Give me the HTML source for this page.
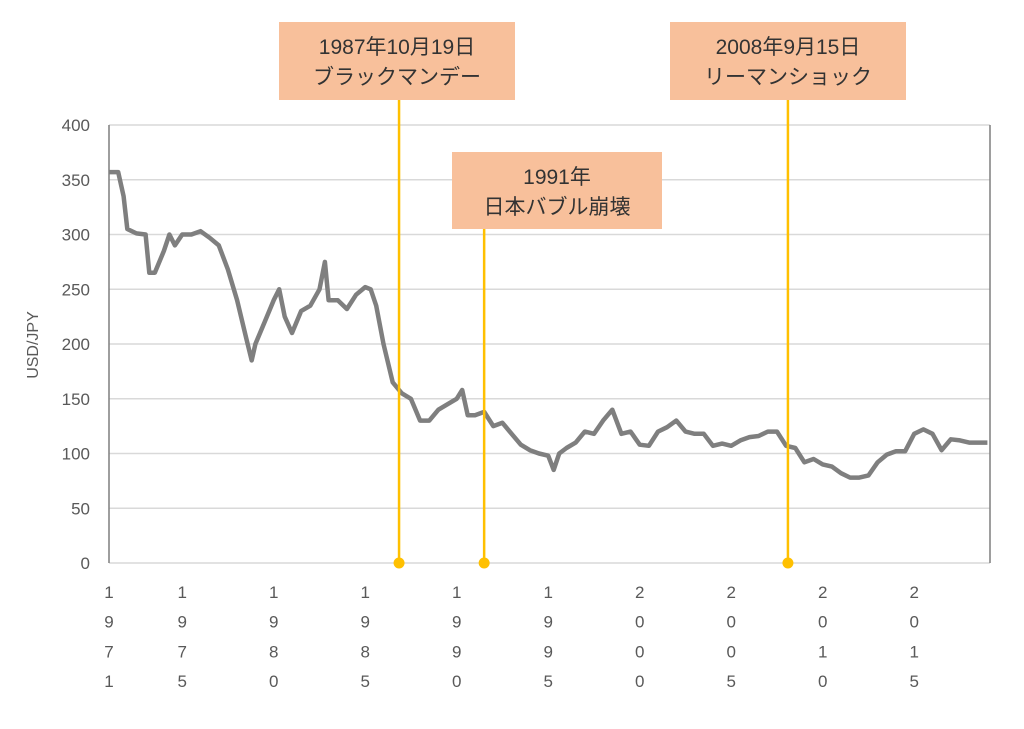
<!DOCTYPE html>
<html><head><meta charset="utf-8">
<style>
body{margin:0;background:#fff;}
svg text{font-family:"Liberation Sans","Noto Sans CJK JP",sans-serif;fill:#595959;}
</style></head>
<body>
<svg id="chart" width="1024" height="724" xmlns="http://www.w3.org/2000/svg">
<g id="grid"></g>
<g id="yticks"></g>
<g id="xticks"></g>
<text x="38" y="345" font-size="16" text-anchor="middle" transform="rotate(-90 38 345)">USD/JPY</text>
<g id="series"></g>
<g id="events"></g>
</svg>
<script>
const years=[1971,1971.5,1971.8,1972,1972.5,1973,1973.2,1973.5,1974,1974.3,1974.6,1975,1975.5,1976,1976.5,1977,1977.5,1978,1978.5,1978.8,1979,1979.5,1980,1980.3,1980.6,1981,1981.5,1982,1982.5,1982.8,1983,1983.5,1984,1984.5,1985,1985.3,1985.6,1986,1986.5,1987,1987.5,1988,1988.5,1989,1989.5,1990,1990.3,1990.6,1991,1991.5,1992,1992.5,1993,1993.5,1994,1994.5,1995,1995.3,1995.6,1996,1996.5,1997,1997.5,1998,1998.5,1999,1999.5,2000,2000.5,2001,2001.5,2002,2002.5,2003,2003.5,2004,2004.5,2005,2005.5,2006,2006.5,2007,2007.5,2008,2008.5,2009,2009.5,2010,2010.5,2011,2011.5,2012,2012.5,2013,2013.5,2014,2014.5,2015,2015.5,2016,2016.5,2017,2017.5,2018,2018.5,2019];
const rates=[357,357,335,305,301,300,265,265,285,300,290,300,300,303,297,290,268,240,205,185,200,220,240,250,225,210,230,235,250,275,240,240,232,245,252,250,235,200,165,155,150,130,130,140,145,150,158,135,135,138,125,128,118,108,103,100,98,85,100,105,110,120,118,130,140,118,120,108,107,120,124,130,120,118,118,107,109,107,112,115,116,120,120,107,105,92,95,90,88,82,78,78,80,92,99,102,102,118,122,118,103,113,112,110,110,110];
const yTicks=[0,50,100,150,200,250,300,350,400];
const xTickYears=[1971,1975,1980,1985,1990,1995,2000,2005,2010,2015];
const eventYears=[1986.85,1991.5,2008.1];
const eventLine1=["1987年10月19日","1991年","2008年9月15日"];
const eventLine2=["ブラックマンデー","日本バブル崩壊","リーマンショック"];

const NS="http://www.w3.org/2000/svg";
const X0=109,X1=990,Y0=563,Y1=125;
const xs=y=>X0+(y-1971)*18.3;
const ys=v=>Y0-(v/400)*(Y0-Y1);
function mk(tag,attrs,parent){const e=document.createElementNS(NS,tag);for(const k in attrs)e.setAttribute(k,attrs[k]);parent.appendChild(e);return e;}

const grid=document.getElementById('grid');
yTicks.forEach(t=>{
  const l=mk('line',{x1:X0,x2:X1,y1:ys(t),y2:ys(t),stroke:t===0?'#d9d9d9':'#d9d9d9','stroke-width':1.5},grid);
  
  
  const tx=mk('text',{x:90,y:ys(t)+6,'font-size':17,'text-anchor':'end'},document.getElementById('yticks'));
  tx.textContent=t;
  
  
});
const la=mk('line',{x1:X0,x2:X0,y1:Y1,y2:Y0,stroke:'#7f7f7f','stroke-width':1.5},grid);


const ra=mk('line',{x1:X1,x2:X1,y1:Y1,y2:Y0,stroke:'#7f7f7f','stroke-width':1.5},grid);



xTickYears.forEach(yr=>{
  const g=mk('g',{},document.getElementById('xticks'));
  
  
  String(yr).split('').forEach((c,i)=>{
    const t=mk('text',{x:xs(yr),y:598+i*29.7,'font-size':17,'text-anchor':'middle'},g);
    t.textContent=c;
  });
});

let d='';
years.forEach((y,i)=>{d+=(i?'L':'M')+xs(y).toFixed(1)+','+ys(rates[i]).toFixed(1);});
const p=mk('path',{d:d,fill:'none',stroke:'#7f7f7f','stroke-width':4.5,'stroke-linejoin':'round'},document.getElementById('series'));



const boxes=[{x:279,y:22,w:236,h:78},{x:452,y:152,w:210,h:77},{x:670,y:22,w:236,h:78}];
const ev=document.getElementById('events');
eventYears.forEach((yr,i)=>{
  const g=mk('g',{},ev);
  
  
  const b=boxes[i];
  const x=xs(yr);
  const ln=mk('line',{x1:x,x2:x,y1:b.y+b.h,y2:Y0,stroke:'#ffc000','stroke-width':2.5},g);
  
  
  const c=mk('circle',{cx:x,cy:Y0,r:5.5,fill:'#ffc000'},g);
  
  
  const r=mk('rect',{x:b.x,y:b.y,width:b.w,height:b.h,fill:'#f8c09b'},g);
  
  
  const t1=mk('text',{x:b.x+b.w/2,y:b.y+32,'font-size':21,'text-anchor':'middle',style:'fill:#333'},g);
  t1.textContent=eventLine1[i];
  const t2=mk('text',{x:b.x+b.w/2,y:b.y+62,'font-size':21,'text-anchor':'middle',style:'fill:#333'},g);
  t2.textContent=eventLine2[i];
});
</script>
</body></html>
